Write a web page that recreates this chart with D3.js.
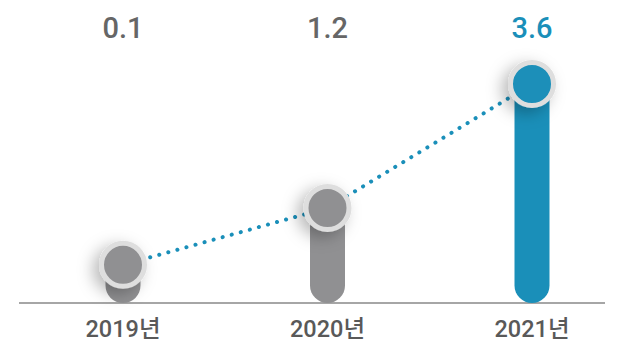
<!DOCTYPE html>
<html>
<head>
<meta charset="utf-8">
<script src="https://cdn.jsdelivr.net/npm/d3@7"></script>
<style>
  body { margin: 0; background: #fff; }
  svg { display: block; }
  .val { font-family: Roboto, sans-serif; font-weight: 500; font-size: 29px; text-anchor: middle; }
  .year { font-family: Roboto, "Noto Sans CJK KR", sans-serif; font-weight: 500; font-size: 23.5px; fill: #595959; text-anchor: middle; }
</style>
</head>
<body>
<div id="chart"></div>
<script>
var years = ['2019년', '2020년', '2021년']
var values = [0.1, 1.2, 3.6]
var labels = ['0.1', '1.2', '3.6']

var w = 624, h = 344
var base = 303
var barW = 35

var svg = d3.select('#chart').append('svg')
    .attr('width', w)
    .attr('height', h)

var defs = svg.append('defs')
var f = defs.append('filter').attr('id', 'shadow')
    .attr('x', '-100%').attr('y', '-100%').attr('width', '300%').attr('height', '300%')
f.append('feDropShadow')
    .attr('dx', -6).attr('dy', 5)
    .attr('stdDeviation', 8)
    .attr('flood-color', '#000')
    .attr('flood-opacity', 0.28)

var x = d3.scalePoint().domain(years).range([123, 532])
var y = d3.scaleLinear().domain([0, 3.6]).range([270, 84])

var color = (d, i) => i === years.length - 1 ? '#1a8fb9' : '#909092'

// baseline
svg.append('line')
    .attr('x1', 19).attr('x2', 605)
    .attr('y1', base).attr('y2', base)
    .attr('stroke', '#888')
    .attr('stroke-width', 1.5)

// bars with rounded bottom
svg.selectAll('path.bar')
    .data(values)
    .enter()
    .append('path')
    .attr('class', 'bar')
    .attr('fill', color)
    .attr('d', (d, i) => {
        var cx = x(years[i]), r = barW / 2
        var top = y(d)
        var p = d3.path()
        p.moveTo(cx - r, top)
        p.lineTo(cx + r, top)
        p.lineTo(cx + r, base - r)
        p.arc(cx, base - r, r, 0, Math.PI)
        p.closePath()
        return p.toString()
    })

// dotted line
var line = d3.line()
    .x((d, i) => x(years[i]))
    .y(d => y(d))

svg.append('path')
    .datum(values)
    .attr('d', line)
    .attr('fill', 'none')
    .attr('stroke', '#1a8fb9')
    .attr('stroke-width', 4)
    .attr('stroke-linecap', 'round')
    .attr('stroke-dasharray', '0.1 9.3')

// circles
svg.selectAll('circle.dot')
    .data(values)
    .enter()
    .append('circle')
    .attr('class', 'dot')
    .attr('cx', (d, i) => x(years[i]))
    .attr('cy', d => y(d))
    .attr('r', 21.5)
    .attr('fill', color)
    .attr('stroke', '#dedede')
    .attr('stroke-width', 5)
    .attr('filter', 'url(#shadow)')

// value labels
svg.selectAll('text.val')
    .data(labels)
    .enter()
    .append('text')
    .attr('class', 'val')
    .attr('x', (d, i) => x(years[i]))
    .attr('y', 38)
    .attr('fill', (d, i) => i === years.length - 1 ? '#1a8fb9' : '#666')
    .text(d => d)

// year labels
svg.selectAll('text.year')
    .data(years)
    .enter()
    .append('text')
    .attr('class', 'year')
    .attr('x', d => x(d))
    .attr('y', 337)
    .text(d => d)
</script>
</body>
</html>
